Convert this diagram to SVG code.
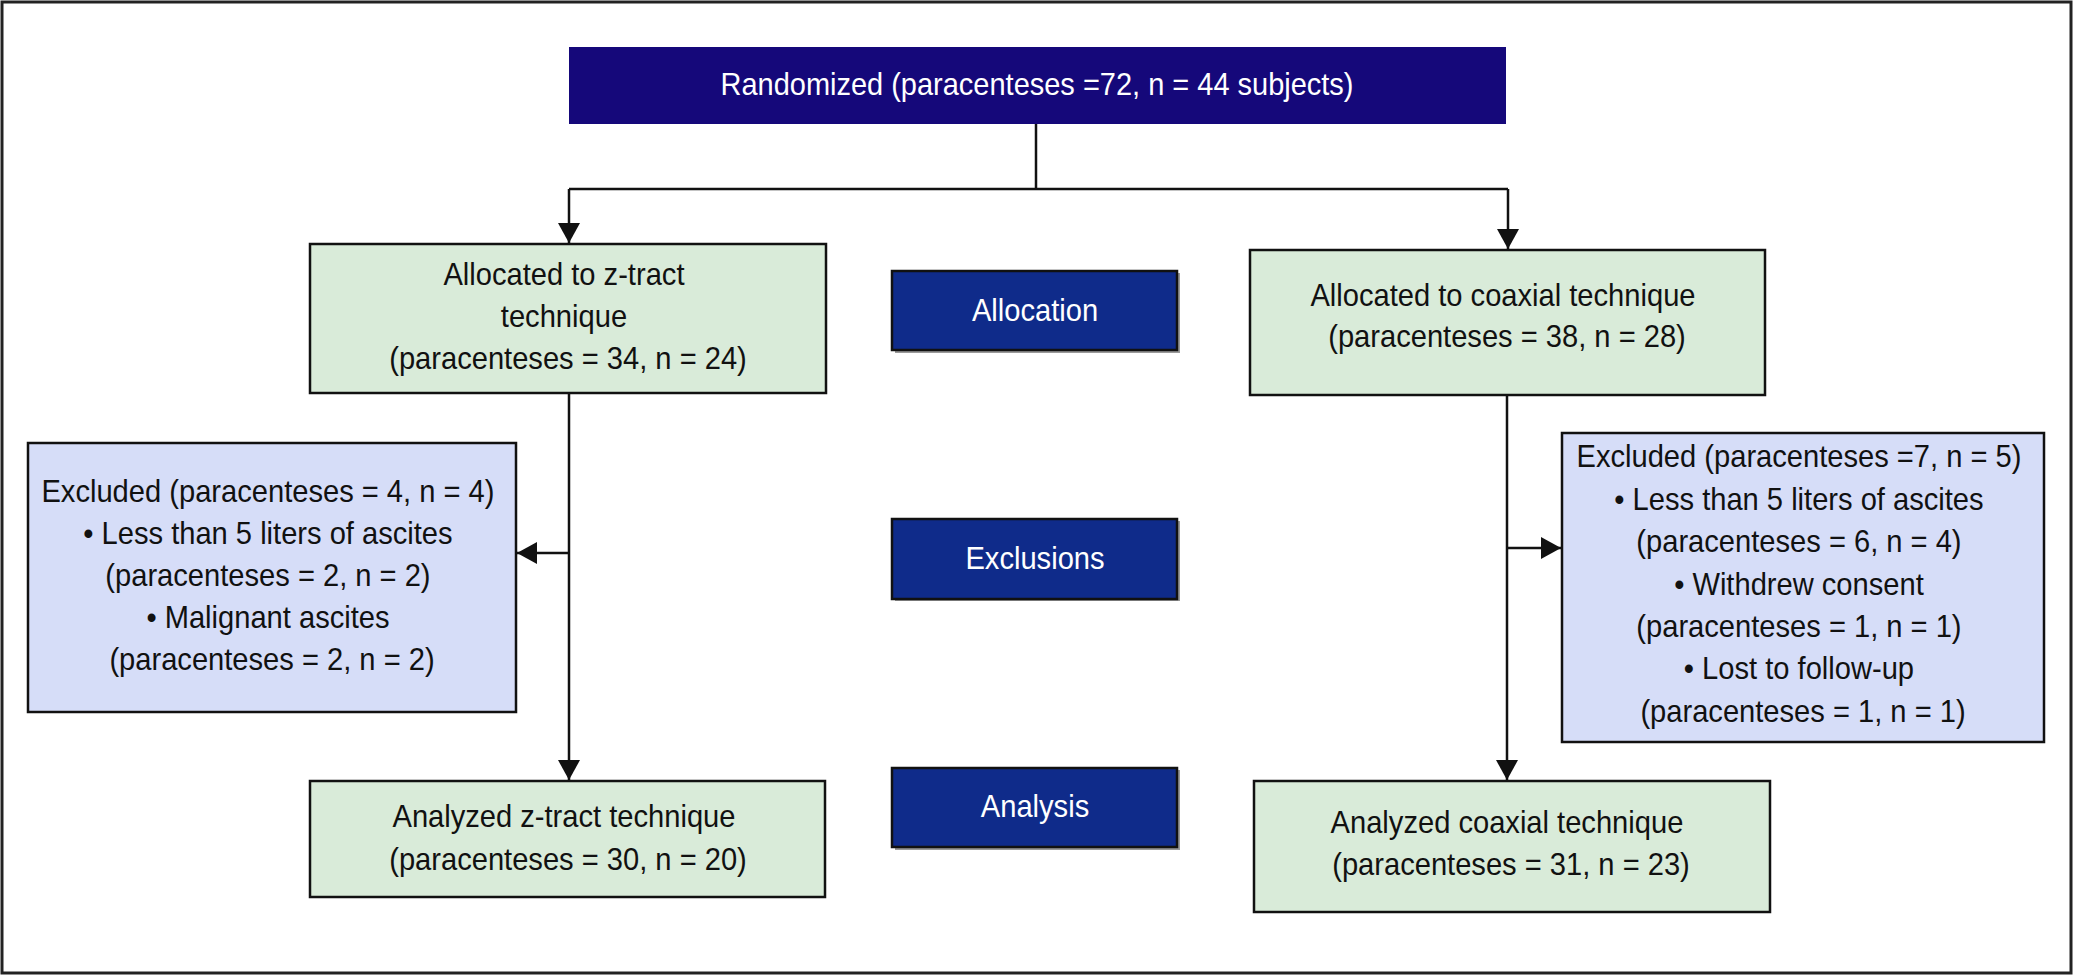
<svg xmlns="http://www.w3.org/2000/svg" width="2074" height="976" viewBox="0 0 2074 976">
<style>
  .t { font-family: "Liberation Sans", Arial, sans-serif; font-size: 32px; fill: #111; text-anchor: middle; }
  .w { fill: #ffffff; }
  .green { fill: #d9ebd9; stroke: #111; stroke-width: 2.5; }
  .blue { fill: #d6ddf8; stroke: #111; stroke-width: 2.5; }
  .label { fill: #0f2b8a; stroke: #111; stroke-width: 2.5; }
  .shadow { fill: #9a9a9a; }
  .conn { fill: none; stroke: #111; stroke-width: 2.5; }
</style>
<defs>
  <marker id="arr" markerUnits="userSpaceOnUse" markerWidth="20" markerHeight="22" refX="20" refY="11" orient="auto">
    <path d="M0,0 L20,11 L0,22 z" fill="#111"/>
  </marker>
</defs>
<rect x="0" y="0" width="2074" height="976" fill="#ffffff"/>
<rect x="2" y="2" width="2069" height="971" fill="none" stroke="#222" stroke-width="3"/>

<g id="connectors">
  <path class="conn" d="M1036,124 V189"/>
  <path class="conn" d="M569,189 H1508"/>
  <path class="conn" d="M569,189 V243" marker-end="url(#arr)"/>
  <path class="conn" d="M1508,189 V249" marker-end="url(#arr)"/>
  <path class="conn" d="M569,393 V780" marker-end="url(#arr)"/>
  <path class="conn" d="M569,553 H517" marker-end="url(#arr)"/>
  <path class="conn" d="M1507,395 V780" marker-end="url(#arr)"/>
  <path class="conn" d="M1507,548 H1561" marker-end="url(#arr)"/>
</g>

<g id="randomized">
  <rect x="569" y="47" width="937" height="77" fill="#15087a"/>
  <text class="t w" transform="translate(1037 0) scale(0.906 1)"><tspan x="0" y="95">Randomized (paracenteses =72, n = 44 subjects)</tspan></text>
</g>

<g id="alloc-ztract">
  <rect class="green" x="310" y="244" width="516" height="149"/>
  <text class="t" transform="translate(568 0) scale(0.91 1)">
    <tspan x="0" y="285">Allocated to z-tract</tspan>
    <tspan x="0" y="327">technique</tspan>
    <tspan x="0" y="369">(paracenteses = 34, n = 24)</tspan>
  </text>
</g>

<g id="alloc-coaxial">
  <rect class="green" x="1250" y="250" width="515" height="145"/>
  <text class="t" transform="translate(1507 0) scale(0.91 1)">
    <tspan x="0" y="306">Allocated to coaxial technique</tspan>
    <tspan x="0" y="347">(paracenteses = 38, n = 28)</tspan>
  </text>
</g>

<g id="label-allocation">
  <rect class="shadow" x="895" y="273" width="285" height="80"/>
  <rect class="label" x="892" y="271" width="285" height="79"/>
  <text class="t w" transform="translate(1035 0) scale(0.91 1)"><tspan x="0" y="321">Allocation</tspan></text>
</g>

<g id="label-exclusions">
  <rect class="shadow" x="895" y="521" width="285" height="80"/>
  <rect class="label" x="892" y="519" width="285" height="80"/>
  <text class="t w" transform="translate(1035 0) scale(0.91 1)"><tspan x="0" y="569">Exclusions</tspan></text>
</g>

<g id="label-analysis">
  <rect class="shadow" x="895" y="770" width="285" height="80"/>
  <rect class="label" x="892" y="768" width="285" height="79"/>
  <text class="t w" transform="translate(1035 0) scale(0.91 1)"><tspan x="0" y="817">Analysis</tspan></text>
</g>

<g id="excluded-ztract">
  <rect class="blue" x="28" y="443" width="488" height="269"/>
  <text class="t" transform="translate(272 0) scale(0.91 1)">
    <tspan x="0" y="502">Excluded (paracenteses = 4, n = 4)</tspan>
    <tspan x="0" y="544">• Less than 5 liters of ascites</tspan>
    <tspan x="0" y="586">(paracenteses = 2, n = 2)</tspan>
    <tspan x="0" y="628">• Malignant ascites</tspan>
    <tspan x="0" y="670">(paracenteses = 2, n = 2)</tspan>
  </text>
</g>

<g id="excluded-coaxial">
  <rect class="blue" x="1562" y="433" width="482" height="309"/>
  <text class="t" transform="translate(1803 0) scale(0.91 1)">
    <tspan x="0" y="467">Excluded (paracenteses =7, n = 5)</tspan>
    <tspan x="0" y="510">• Less than 5 liters of ascites</tspan>
    <tspan x="0" y="552">(paracenteses = 6, n = 4)</tspan>
    <tspan x="0" y="595">• Withdrew consent</tspan>
    <tspan x="0" y="637">(paracenteses = 1, n = 1)</tspan>
    <tspan x="0" y="679">• Lost to follow-up</tspan>
    <tspan x="0" y="722">(paracenteses = 1, n = 1)</tspan>
  </text>
</g>

<g id="analyzed-ztract">
  <rect class="green" x="310" y="781" width="515" height="116"/>
  <text class="t" transform="translate(568 0) scale(0.91 1)">
    <tspan x="0" y="827">Analyzed z-tract technique</tspan>
    <tspan x="0" y="870">(paracenteses = 30, n = 20)</tspan>
  </text>
</g>

<g id="analyzed-coaxial">
  <rect class="green" x="1254" y="781" width="516" height="131"/>
  <text class="t" transform="translate(1511 0) scale(0.91 1)">
    <tspan x="0" y="833">Analyzed coaxial technique</tspan>
    <tspan x="0" y="875">(paracenteses = 31, n = 23)</tspan>
  </text>
</g>
</svg>
